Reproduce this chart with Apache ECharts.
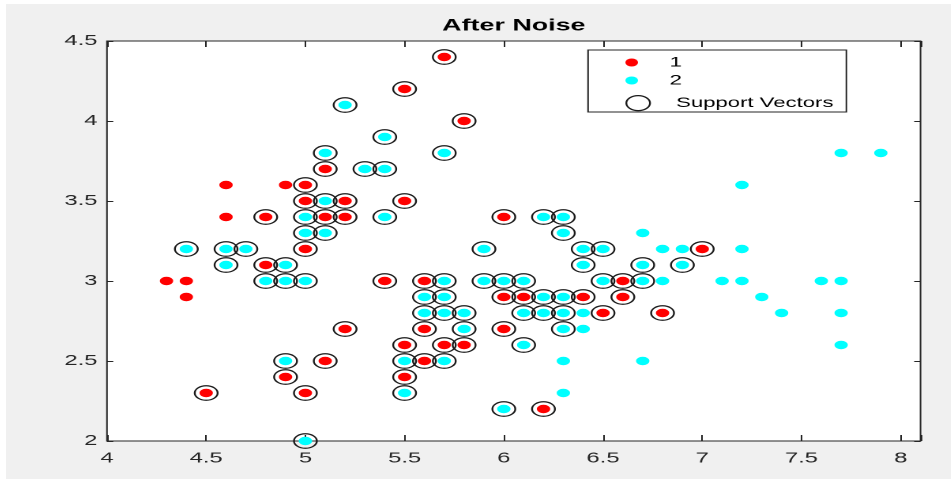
<!DOCTYPE html>
<html lang="en">
<head>
<meta charset="UTF-8">
<title>After Noise</title>
<script src="https://cdn.jsdelivr.net/npm/echarts@6/dist/echarts.min.js"></script>
<style>
  html, body { margin: 0; padding: 0; background: #fff; }
  /* the original figure was stretched sideways, so draw it narrow and widen it */
  #main { position: absolute; left: 6px; top: 4px; width: 598px; height: 475px;
          transform: scaleX(1.58); transform-origin: 0 0; }
</style>
</head>
<body>
<div id="main"></div>
<script>
// class 1 (red)
var class1 = [
  [4.6, 3.6], [4.9, 3.6], [4.6, 3.4], [4.3, 3.0], [4.4, 3.0], [4.4, 2.9],
  [5.7, 4.4], [5.5, 4.2], [5.8, 4.0], [5.1, 3.7], [5.0, 3.6], [5.0, 3.5],
  [5.2, 3.5], [5.5, 3.5], [4.8, 3.4], [5.1, 3.4], [5.2, 3.4], [6.0, 3.4],
  [5.0, 3.2], [7.0, 3.2], [4.8, 3.1], [5.4, 3.0], [5.6, 3.0], [6.6, 3.0],
  [6.0, 2.9], [6.1, 2.9], [6.4, 2.9], [6.6, 2.9], [6.5, 2.8], [6.8, 2.8],
  [5.2, 2.7], [5.6, 2.7], [6.0, 2.7], [5.5, 2.6], [5.7, 2.6], [5.8, 2.6],
  [5.1, 2.5], [5.6, 2.5], [4.9, 2.4], [5.5, 2.4], [4.5, 2.3], [5.0, 2.3],
  [6.2, 2.2]
];

// class 2 (cyan)
var class2 = [
  [5.2, 4.1], [5.4, 3.9], [5.1, 3.8], [5.7, 3.8], [5.3, 3.7], [5.4, 3.7],
  [5.1, 3.5], [5.0, 3.4], [5.4, 3.4], [6.2, 3.4], [6.3, 3.4], [5.0, 3.3],
  [5.1, 3.3], [6.3, 3.3], [4.4, 3.2], [4.6, 3.2], [4.7, 3.2], [5.9, 3.2],
  [6.4, 3.2], [6.5, 3.2], [4.6, 3.1], [4.9, 3.1], [6.4, 3.1], [6.7, 3.1],
  [6.9, 3.1], [4.8, 3.0], [4.9, 3.0], [5.0, 3.0], [5.7, 3.0], [5.9, 3.0],
  [6.0, 3.0], [6.1, 3.0], [6.5, 3.0], [6.7, 3.0], [5.6, 2.9], [5.7, 2.9],
  [6.2, 2.9], [6.3, 2.9], [5.6, 2.8], [5.7, 2.8], [5.8, 2.8], [6.1, 2.8],
  [6.2, 2.8], [6.3, 2.8], [5.8, 2.7], [6.3, 2.7], [6.1, 2.6], [4.9, 2.5],
  [5.5, 2.5], [5.7, 2.5], [5.5, 2.3], [6.0, 2.2], [5.0, 2.0],
  [7.7, 3.8], [7.9, 3.8], [7.2, 3.6], [6.7, 3.3], [6.8, 3.2], [6.9, 3.2],
  [7.2, 3.2], [6.8, 3.0], [7.1, 3.0], [7.2, 3.0], [7.6, 3.0], [7.7, 3.0],
  [7.3, 2.9], [6.4, 2.8], [7.4, 2.8], [7.7, 2.8], [6.4, 2.7], [7.7, 2.6],
  [6.3, 2.5], [6.7, 2.5], [6.3, 2.3]
];

// circled points
var supportVectors = [
  [5.7, 4.4], [5.5, 4.2], [5.8, 4.0], [5.1, 3.7], [5.0, 3.6], [5.0, 3.5],
  [5.2, 3.5], [5.5, 3.5], [4.8, 3.4], [5.1, 3.4], [5.2, 3.4], [6.0, 3.4],
  [5.0, 3.2], [7.0, 3.2], [4.8, 3.1], [5.4, 3.0], [5.6, 3.0], [6.6, 3.0],
  [6.0, 2.9], [6.1, 2.9], [6.4, 2.9], [6.6, 2.9], [6.5, 2.8], [6.8, 2.8],
  [5.2, 2.7], [5.6, 2.7], [6.0, 2.7], [5.5, 2.6], [5.7, 2.6], [5.8, 2.6],
  [5.1, 2.5], [5.6, 2.5], [4.9, 2.4], [5.5, 2.4], [4.5, 2.3], [5.0, 2.3],
  [6.2, 2.2],
  [5.2, 4.1], [5.4, 3.9], [5.1, 3.8], [5.7, 3.8], [5.3, 3.7], [5.4, 3.7],
  [5.1, 3.5], [5.0, 3.4], [5.4, 3.4], [6.2, 3.4], [6.3, 3.4], [5.0, 3.3],
  [5.1, 3.3], [6.3, 3.3], [4.4, 3.2], [4.6, 3.2], [4.7, 3.2], [5.9, 3.2],
  [6.4, 3.2], [6.5, 3.2], [4.6, 3.1], [4.9, 3.1], [6.4, 3.1], [6.7, 3.1],
  [6.9, 3.1], [4.8, 3.0], [4.9, 3.0], [5.0, 3.0], [5.7, 3.0], [5.9, 3.0],
  [6.0, 3.0], [6.1, 3.0], [6.5, 3.0], [6.7, 3.0], [5.6, 2.9], [5.7, 2.9],
  [6.2, 2.9], [6.3, 2.9], [5.6, 2.8], [5.7, 2.8], [5.8, 2.8], [6.1, 2.8],
  [6.2, 2.8], [6.3, 2.8], [5.8, 2.7], [6.3, 2.7], [6.1, 2.6], [4.9, 2.5],
  [5.5, 2.5], [5.7, 2.5], [5.5, 2.3], [6.0, 2.2], [5.0, 2.0]
];

var xRange = [4, 8.1];
var yRange = [2, 4.5];
var tickStep = 0.5;

var axisColor = '#262626';
var font = 'Liberation Sans';

function axis(range, pos, labels, tickLen) {
  return {
    type: 'value', position: pos, min: range[0], max: range[1], interval: tickStep,
    splitLine: { show: false },
    axisLine: { show: false },
    axisTick: { inside: true, length: tickLen, lineStyle: { color: axisColor } },
    axisLabel: {
      show: labels, fontSize: 15, fontFamily: font, color: axisColor,
      margin: (pos === 'bottom') ? 10 : 6,
      // hide the label of the extra tick at the right edge
      formatter: function (v) { return v > 8.05 ? '' : String(v); }
    }
  };
}

var legendText = { fontFamily: font, fontSize: 14, color: '#000', padding: [0, 0, 0, 11] };

var chart = echarts.init(document.getElementById('main'), null, { devicePixelRatio: 2 });
chart.setOption({
  backgroundColor: '#f0f0f0',
  animation: false,
  title: {
    text: 'After Noise', left: 321.4, top: 13.5, textAlign: 'center', padding: 0,
    textStyle: { fontFamily: font, fontSize: 17, fontWeight: 'bold', color: '#000' }
  },
  grid: {
    left: 63.9, right: 19.2, top: 37, bottom: 38,
    show: true, backgroundColor: '#fff', borderColor: axisColor, borderWidth: 1
  },
  xAxis: [axis(xRange, 'bottom', true, 6), axis(xRange, 'top', false, 6)],
  yAxis: [axis(yRange, 'left', true, 4), axis(yRange, 'right', false, 4)],
  legend: [
    {
      data: ['1', '2'], orient: 'vertical', left: 368.4, top: 46,
      padding: [5.5, 104.1, 24.5, 23.6], itemGap: 4,
      itemWidth: 16, itemHeight: 8,
      backgroundColor: '#fff', borderColor: axisColor, borderWidth: 1,
      textStyle: legendText
    },
    {
      data: ['Support Vectors'], orient: 'vertical', left: 368.4, top: 91, z: 6,
      padding: [0, 0, 0, 23.6], itemWidth: 16, itemHeight: 15,
      itemStyle: { color: 'rgba(0,0,0,0)', borderColor: '#1a1a1a', borderWidth: 1.2 },
      textStyle: legendText
    }
  ],
  series: [
    {
      name: '1', type: 'scatter', data: class1, symbol: 'circle', symbolSize: 8.5,
      itemStyle: { color: '#ff0000', opacity: 1 }
    },
    {
      name: '2', type: 'scatter', data: class2, symbol: 'circle', symbolSize: 8.5,
      itemStyle: { color: '#00ffff', opacity: 1 }
    },
    {
      name: 'Support Vectors', type: 'scatter', data: supportVectors, symbol: 'circle',
      symbolSize: 14.5, z: 3,
      itemStyle: { color: 'rgba(0,0,0,0)', borderColor: '#1a1a1a', borderWidth: 1.2, opacity: 1 }
    }
  ]
});
</script>
</body>
</html>
